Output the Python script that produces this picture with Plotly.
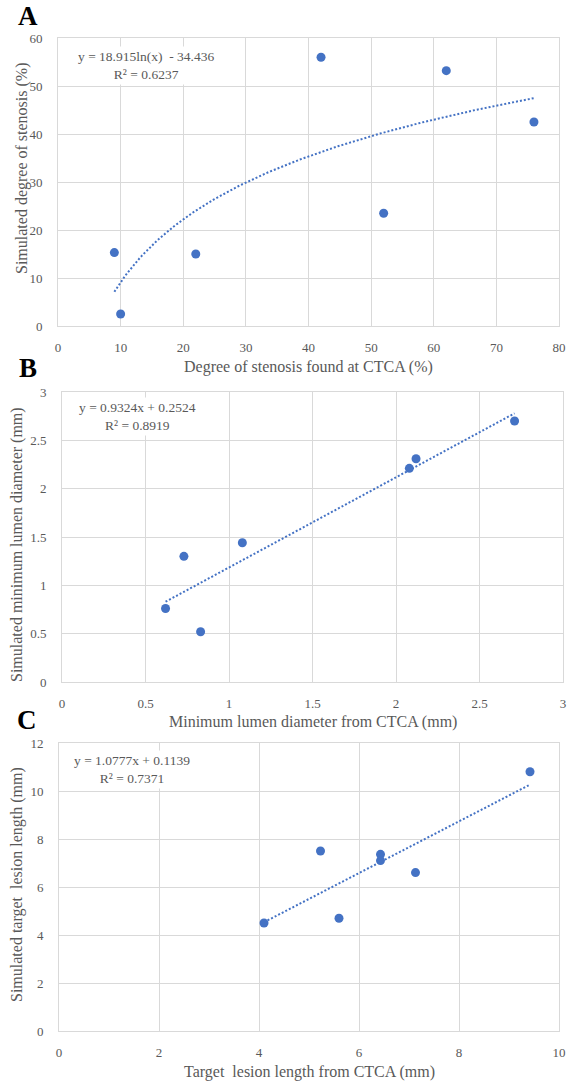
import numpy as np
import plotly.graph_objects as go

# ---------------- data ----------------
# Panel A
a_x = [9, 10, 22, 42, 52, 62, 76]
a_y = [15.3, 2.5, 15.0, 56.0, 23.5, 53.2, 42.5]
a_coef = (18.915, -34.436)          # y = a*ln(x) + b
a_eq = ["y = 18.915ln(x)  - 34.436", "R² = 0.6237"]
a_xticks = [0, 10, 20, 30, 40, 50, 60, 70, 80]
a_yticks = [0, 10, 20, 30, 40, 50, 60]

# Panel B
b_x = [0.62, 0.73, 0.83, 1.08, 2.08, 2.12, 2.71]
b_y = [0.76, 1.30, 0.52, 1.44, 2.21, 2.31, 2.70]
b_coef = (0.9324, 0.2524)           # y = a*x + b
b_eq = ["y = 0.9324x + 0.2524", "R² = 0.8919"]
b_xticks = [0, 0.5, 1, 1.5, 2, 2.5, 3]
b_yticks = [0, 0.5, 1, 1.5, 2, 2.5, 3]

# Panel C
c_x = [4.1, 5.23, 5.6, 6.43, 6.43, 7.13, 9.42]
c_y = [4.5, 7.5, 4.7, 7.36, 7.1, 6.6, 10.8]
c_coef = (1.0777, 0.1139)
c_eq = ["y = 1.0777x + 0.1139", "R² = 0.7371"]
c_xticks = [0, 2, 4, 6, 8, 10]
c_yticks = [0, 2, 4, 6, 8, 10, 12]

W, H = 567, 1082
BLUE = "#4472C4"
GRID = "#d9d9d9"
TXT = "#595959"
FONT = "Liberation Serif"

def px(x):
    return x / W

def py(y):
    return 1 - y / H

fig = go.Figure()

panels = [
    dict(x=a_x, y=a_y, kind="log", coef=a_coef, xt=a_xticks, yt=a_yticks,
         dom_x=(58, 559), dom_y=(38, 326), eq=a_eq, eq_pos=(145.5, 65.5),
         xtitle="Degree of stenosis found at CTCA (%)", xtitle_y=367,
         ytitle="Simulated degree of stenosis (%)", ytitle_pos=(22, 168),
         letter="A", letter_pos=(28, 16)),
    dict(x=b_x, y=b_y, kind="lin", coef=b_coef, xt=b_xticks, yt=b_yticks,
         dom_x=(62, 563), dom_y=(392, 682), eq=b_eq, eq_pos=(137.5, 416),
         xtitle="Minimum lumen diameter from CTCA (mm)", xtitle_y=722,
         ytitle="Simulated minimum lumen diameter (mm)", ytitle_pos=(17, 545),
         letter="B", letter_pos=(28, 368)),
    dict(x=c_x, y=c_y, kind="lin", coef=c_coef, xt=c_xticks, yt=c_yticks,
         dom_x=(59, 559), dom_y=(743, 1031), eq=c_eq, eq_pos=(132, 769),
         xtitle="Target\u00a0 lesion length from CTCA (mm)", xtitle_y=1072,
         ytitle="Simulated target\u00a0 lesion length (mm)", ytitle_pos=(17, 885),
         letter="C", letter_pos=(27, 720)),
]

annotations = []
for i, p in enumerate(panels, start=1):
    sfx = "" if i == 1 else str(i)
    xa, ya = "x" + sfx, "y" + sfx

    # trendline
    xs = np.linspace(min(p["x"]), max(p["x"]), 200)
    if p["kind"] == "log":
        ys = p["coef"][0] * np.log(xs) + p["coef"][1]
    else:
        ys = p["coef"][0] * xs + p["coef"][1]
    fig.add_trace(go.Scatter(x=xs, y=ys, mode="lines", xaxis=xa, yaxis=ya,
                             line=dict(color=BLUE, width=2, dash="2px,2px"),
                             hoverinfo="skip", showlegend=False))
    fig.add_trace(go.Scatter(x=p["x"], y=p["y"], mode="markers", xaxis=xa, yaxis=ya,
                             marker=dict(color=BLUE, size=9), showlegend=False))

    axis_common = dict(showgrid=True, gridcolor=GRID, gridwidth=1, zeroline=False,
                       showline=True, linecolor=GRID, linewidth=1, mirror=True,
                       ticks="", tickfont=dict(family=FONT, size=13, color=TXT),
                       fixedrange=True, automargin=False)
    fig.update_layout(**{
        "xaxis" + sfx: dict(axis_common, domain=[px(p["dom_x"][0]), px(p["dom_x"][1])],
                            range=[p["xt"][0], p["xt"][-1]], tickmode="array",
                            tickvals=p["xt"], ticktext=[f"{v:g}" for v in p["xt"]],
                            anchor=ya, ticklabelstandoff=9),
        "yaxis" + sfx: dict(axis_common, domain=[py(p["dom_y"][1]), py(p["dom_y"][0])],
                            range=[p["yt"][0], p["yt"][-1]], tickmode="array",
                            tickvals=p["yt"], ticktext=[f"{v:g}" for v in p["yt"]],
                            anchor=xa, ticklabelstandoff=12),
    })

    # equation box
    annotations.append(dict(text="<br>".join(p["eq"]), xref="paper", yref="paper",
                            x=px(p["eq_pos"][0]), y=py(p["eq_pos"][1]),
                            xanchor="center", yanchor="middle", align="center",
                            showarrow=False, bgcolor="white", borderpad=2,
                            font=dict(family=FONT, size=13.5, color=TXT)))
    # axis titles
    cx = (p["dom_x"][0] + p["dom_x"][1]) / 2
    annotations.append(dict(text=p["xtitle"], xref="paper", yref="paper",
                            x=px(cx), y=py(p["xtitle_y"]), xanchor="center",
                            yanchor="middle", showarrow=False,
                            font=dict(family=FONT, size=16, color=TXT)))
    annotations.append(dict(text=p["ytitle"], xref="paper", yref="paper",
                            x=px(p["ytitle_pos"][0]), y=py(p["ytitle_pos"][1]),
                            xanchor="center", yanchor="middle", textangle=-90,
                            showarrow=False,
                            font=dict(family=FONT, size=16, color=TXT)))
    # panel letter
    annotations.append(dict(text="<b>" + p["letter"] + "</b>", xref="paper", yref="paper",
                            x=px(p["letter_pos"][0]), y=py(p["letter_pos"][1]),
                            xanchor="center", yanchor="middle", showarrow=False,
                            font=dict(family=FONT, size=27, color="black")))

fig.update_layout(width=W, height=H, margin=dict(l=0, r=0, t=0, b=0),
                  paper_bgcolor="white", plot_bgcolor="white",
                  annotations=annotations, showlegend=False)

fig.write_html("out.html", config={"displayModeBar": False},
               post_script="document.body.style.margin='0px';"
                           "document.body.style.overflow='hidden';")
